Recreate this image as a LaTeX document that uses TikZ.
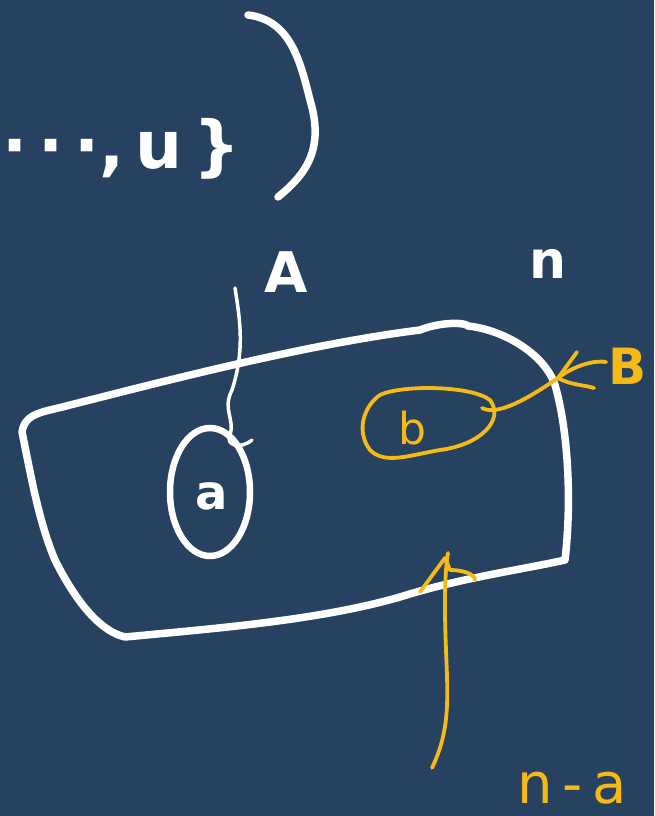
\documentclass[tikz,border=0pt]{standalone}
\usepackage{fontspec}
\setmainfont{DejaVu Sans}
\usetikzlibrary{shapes.geometric}
\definecolor{bg}{RGB}{39,65,96}
\definecolor{ink}{RGB}{246,186,22}
\tikzset{
  wline/.style={draw=white,line width=7.5pt,line cap=round,line join=round},
  thin/.style={draw=white,line width=3.5pt,line cap=round,line join=round},
  yline/.style={draw=ink,line width=3.8pt,line cap=round,line join=round},
  wlab/.style={text=white,inner sep=0pt},
  ylab/.style={text=ink,inner sep=0pt}
}
\begin{document}
\begin{tikzpicture}[x=1pt,y=-1pt]
\fill[bg] (0,0) rectangle (654,816);
\useasboundingbox (0,0) rectangle (654,816);
% top text
\node[wlab,anchor=base west,font=\bfseries\fontsize{66}{74}\selectfont] (top) at (2,168) {\textperiodcentered\,\textperiodcentered\,\textperiodcentered,\,u\,\}};
\draw[wline] (248,15) .. controls (290,20) and (300,60) .. (310,100) .. controls (325,150) and (305,175) .. (278,197);
% main region
\draw[wline] (22,432) .. controls (25,412) and (45,412) .. (70,405)
  .. controls (150,385) and (300,345) .. (420,330)
  .. controls (440,322) and (465,322) .. (468,326)
  .. controls (505,330) and (545,355) .. (555,385)
  .. controls (568,430) and (572,500) .. (565,560)
  .. controls (520,570) and (460,578) .. (400,597)
  .. controls (320,620) and (220,628) .. (125,637)
  .. controls (95,630) and (70,590) .. (55,560)
  .. controls (38,520) and (30,470) .. (22,432);
% ellipse a
\node[draw=white,line width=6.5pt,ellipse,minimum width=80pt,minimum height=128pt,inner sep=0pt] (ea) at (210,492) {};
\node[wlab,font=\bfseries\fontsize{48}{56}\selectfont] (la) at (212,496) {a};
\draw[thin] (235,288) .. controls (240,320) and (245,350) .. (232,390) .. controls (222,410) and (235,418) .. (230,435) .. controls (225,445) and (240,450) .. (252,440);
% labels
\node[wlab,font=\bfseries\fontsize{56}{62}\selectfont] (lA) at (286,272) {A};
\node[wlab,font=\bfseries\fontsize{52}{58}\selectfont] (ln) at (548,264) {n};
% yellow blob b
\draw[yline] (380,395) .. controls (400,385) and (470,385) .. (490,400)
  .. controls (505,420) and (480,445) .. (440,450)
  .. controls (410,455) and (385,465) .. (370,450)
  .. controls (355,430) and (365,405) .. (380,395);
\node[ylab,font=\fontsize{44}{52}\selectfont] (lb) at (412,428) {b};
\draw[yline] (482,408) .. controls (500,418) and (540,390) .. (558,378);
\draw[yline] (577,352) -- (558,378) .. controls (570,385) and (585,385) .. (594,388);
\draw[yline] (558,378) .. controls (575,365) and (595,360) .. (606,362);
\node[ylab,font=\bfseries\fontsize{50}{56}\selectfont] (lB) at (628,366) {B};
% arrow n-a
\draw[yline] (432,768) .. controls (450,730) and (448,700) .. (446,650) .. controls (444,600) and (445,570) .. (448,553);
\draw[yline] (420,592) -- (445,558) -- (450,570) .. controls (465,570) and (475,575) .. (475,580);
\node[ylab,font=\fontsize{56}{62}\selectfont] (lna) at (572,788) {n\,-\,a};
\end{tikzpicture}
\end{document}
